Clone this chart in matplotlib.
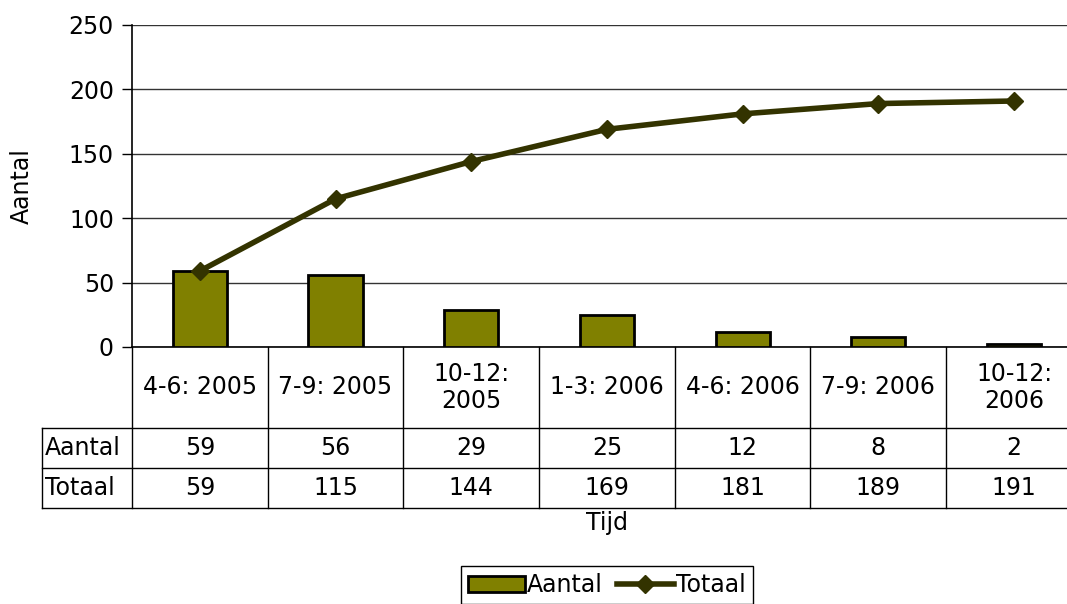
import matplotlib
matplotlib.use("Agg")
import matplotlib.pyplot as plt
from matplotlib.lines import Line2D
from matplotlib.patches import Patch
from matplotlib.transforms import blended_transform_factory

categories = ["4-6: 2005", "7-9: 2005", "10-12:\n2005", "1-3: 2006",
              "4-6: 2006", "7-9: 2006", "10-12:\n2006"]
aantal = [59, 56, 29, 25, 12, 8, 2]
totaal = [59, 115, 144, 169, 181, 189, 191]
yticks = [0, 50, 100, 150, 200, 250]

W, H = 1067, 604
FS = 17
BAR = "#808000"
LINE = "#333300"

plt.rcParams["font.family"] = ["DejaVu Sans"]
fig = plt.figure(figsize=(W / 100, H / 100), dpi=100)

# plot area in pixels
x0, x1 = 132, 132 + 7 * 135.7
y_top, y_bot = 25, 347
ax = fig.add_axes([x0 / W, 1 - y_bot / H, (x1 - x0) / W, (y_bot - y_top) / H])

xs = list(range(len(categories)))
ax.bar(xs, aantal, width=0.4, color=BAR, edgecolor="black", linewidth=2, zorder=3)
ax.plot(xs, totaal, color=LINE, lw=4, marker="D", ms=9, zorder=4)

ax.set_xlim(-0.5, len(categories) - 0.5)
ax.set_ylim(0, 250)
ax.set_yticks(yticks)
ax.tick_params(axis="y", labelsize=FS, length=7, width=1, direction="out", pad=6)
ax.set_xticks([])
ax.grid(axis="y", color="#333333", lw=1, zorder=0)
for s in ["top", "right"]:
    ax.spines[s].set_visible(False)
ax.spines["left"].set_linewidth(1.2)
ax.spines["bottom"].set_linewidth(1.2)

def fy(p):
    return 1 - p / H

fig.text(22 / W, fy(186), "Aantal", rotation=90, ha="center", va="center", fontsize=FS)

# data table under the axis
tr = blended_transform_factory(ax.transData, fig.transFigure)
rows_y = [347, 428, 468, 508]
lx = -0.5 - (132 - 42) / 135.7  # left edge of label column in data units
for b in [-0.5 + i for i in range(len(categories) + 1)]:
    fig.add_artist(Line2D([b, b], [fy(347), fy(508)], transform=tr, color="black", lw=1))
fig.add_artist(Line2D([lx, lx], [fy(428), fy(508)], transform=tr, color="black", lw=1))
for yy in rows_y[1:]:
    fig.add_artist(Line2D([lx, len(categories) - 0.5], [fy(yy), fy(yy)],
                          transform=tr, color="black", lw=1))

for i, c in enumerate(categories):
    fig.text(i, fy((347 + 428) / 2), c, transform=tr, ha="center", va="center",
             fontsize=FS, linespacing=1.15)
    fig.text(i, fy((428 + 468) / 2), str(aantal[i]), transform=tr, ha="center",
             va="center", fontsize=FS)
    fig.text(i, fy((468 + 508) / 2), str(totaal[i]), transform=tr, ha="center",
             va="center", fontsize=FS)
fig.text(lx + 0.02, fy((428 + 468) / 2), "Aantal", transform=tr, ha="left",
         va="center", fontsize=FS)
fig.text(lx + 0.02, fy((468 + 508) / 2), "Totaal", transform=tr, ha="left",
         va="center", fontsize=FS)

fig.text(607 / W, fy(523), "Tijd", ha="center", va="center", fontsize=FS)

handles = [Patch(facecolor=BAR, edgecolor="black", linewidth=2),
           Line2D([], [], color=LINE, lw=4, marker="D", ms=9)]
leg = fig.legend(handles, ["Aantal", "Totaal"], loc="upper center",
                 bbox_to_anchor=(607 / W, fy(566)), ncol=2, fontsize=FS,
                 frameon=True, fancybox=False, edgecolor="black", framealpha=1,
                 handlelength=2.4, handletextpad=0.1, columnspacing=0.6,
                 borderpad=0.3, borderaxespad=0)
leg.get_frame().set_linewidth(1)

fig.savefig("out.png", dpi=100)
